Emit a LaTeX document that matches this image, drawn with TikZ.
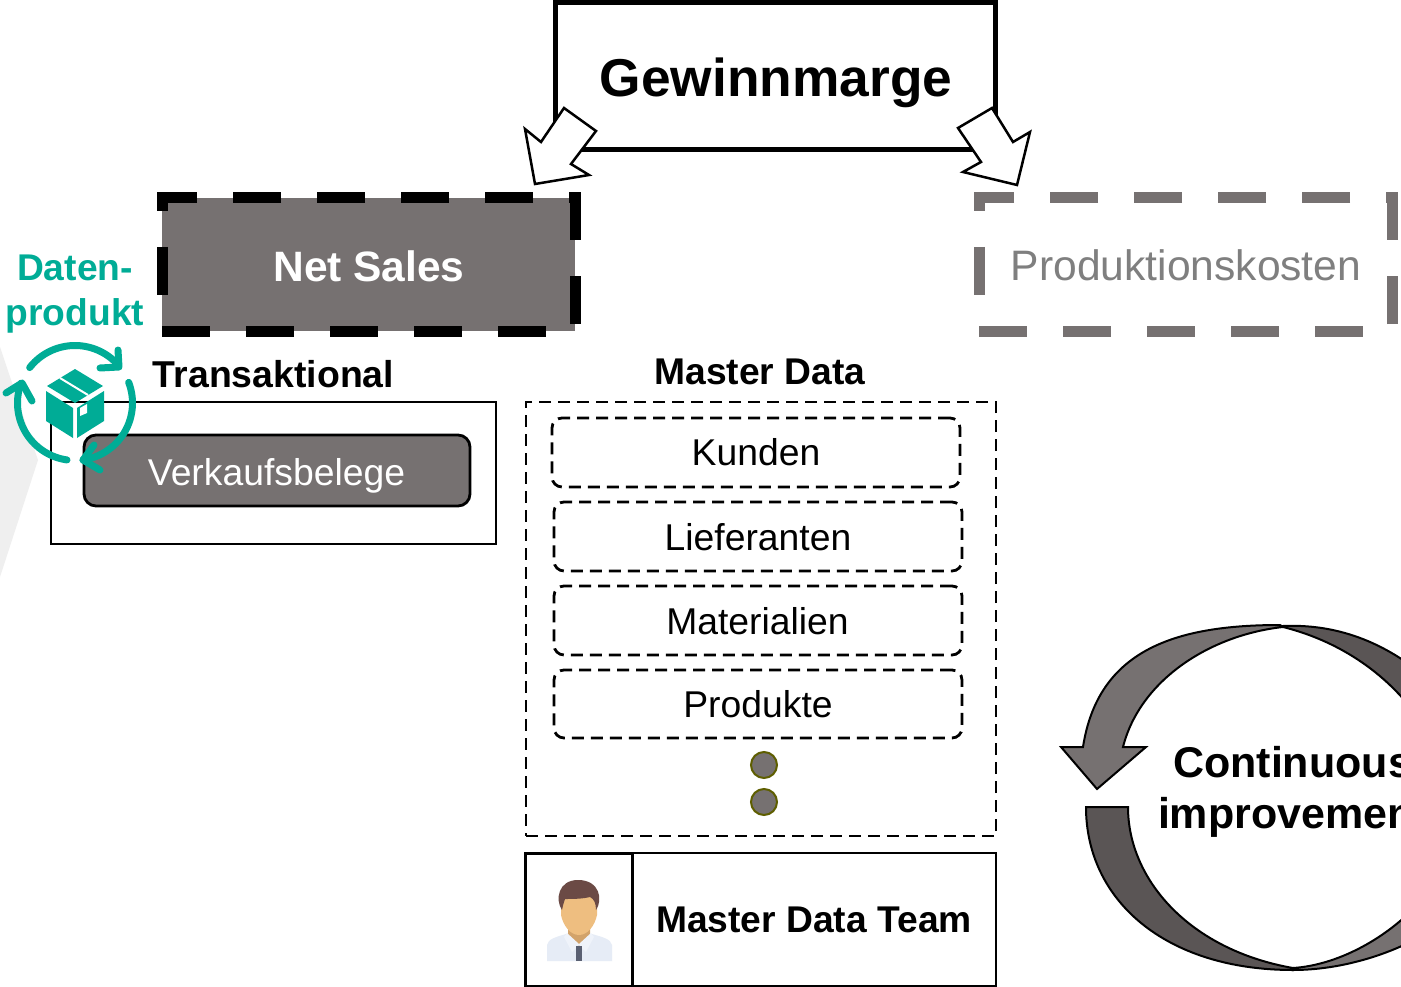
\documentclass[tikz,border=0pt]{standalone}
\usepackage{fontspec}
\setmainfont{Liberation Sans}
\definecolor{boxgray}{HTML}{767171}
\definecolor{darkgray}{HTML}{5A5555}
\definecolor{labelgray}{HTML}{7F7F7F}
\definecolor{teal}{HTML}{00AC96}
\definecolor{paleback}{HTML}{EFEFEF}
\definecolor{olivering}{HTML}{5E5E00}
\definecolor{shirt}{HTML}{E6ECF6}
\definecolor{neck}{HTML}{D2A36B}
\definecolor{collar}{HTML}{EFF3FA}
\definecolor{tie}{HTML}{5A6072}
\definecolor{face}{HTML}{EEBE80}
\definecolor{hair}{HTML}{6B4A45}
\newcommand{\fz}[1]{\fontsize{#1}{#1}\selectfont}
\tikzset{
  x=1pt,y=-1pt,
  every node/.style={inner sep=0pt,outer sep=0pt},
  lab/.style={anchor=base,text=black},
  blockarrow/.style={draw=black,line width=2.5pt,fill=white,line join=miter},
  bigdash/.style={line width=11pt,dash pattern=on 48pt off 36pt},
  thindash/.style={draw=black,line width=2.8pt,dash pattern=on 12pt off 7pt},
  innerbox/.style={thindash,rounded corners=10pt,minimum width=408pt},
  loopdark/.style={draw=black,line width=2pt,fill=darkgray,line join=miter},
  looplight/.style={draw=black,line width=2pt,fill=boxgray,line join=miter},
  tealarc/.style={draw=teal,line width=7pt,line cap=round,line join=round},
  dotnode/.style={circle,draw=olivering,line width=2pt,fill=boxgray,minimum size=26pt},
}
\begin{document}
\begin{tikzpicture}
\useasboundingbox (0,0) rectangle (1401,987);
\clip (0,0) rectangle (1401,987);
\fill[white] (0,0) rectangle (1401,987);
\fill[paleback] (0,347) -- (38,460) -- (0,577) -- cycle;

% Gewinnmarge
\node[rectangle,draw=black,line width=5pt,minimum width=440pt,minimum height=147pt] (gm) at (775.5,76.5) {};
\node[lab,font=\fz{53.3}\bfseries] (gmt) at (776,97) {Gewinnmarge};

% Net Sales
\node[rectangle,fill=boxgray,minimum width=413pt,minimum height=133pt] (ns) at (368.5,264.5) {};
\draw[bigdash,draw=black] (ns.south west) -- (ns.south east) -- (ns.north east) -- (ns.north west) -- cycle;
\node[lab,text=white,font=\fz{42.5}\bfseries] (nst) at (369,282) {Net Sales};

% Produktionskosten
\node[rectangle,minimum width=413pt,minimum height=133pt] (pk) at (1185.5,264.5) {};
\draw[bigdash,draw=boxgray] (pk.south west) -- (pk.south east) -- (pk.north east) -- (pk.north west) -- cycle;
\node[lab,text=labelgray,font=\fz{42.6}] (pkt) at (1186,281) {Produktionskosten};

% block arrows
\draw[blockarrow] (564,108) -- (596,131) -- (571,164) -- (589,175) -- (535,184) -- (525,129) -- (541,142) -- cycle;
\draw[blockarrow] (992,108) -- (1013,142) -- (1030,132) -- (1017,185) -- (963,172) -- (981,162) -- (958,128) -- cycle;

% Transaktional
\node[lab,font=\fz{37.4}\bfseries] (trt) at (273.5,387) {Transaktional};
\node[rectangle,draw=black,line width=2.8pt,minimum width=445pt,minimum height=142pt] (tr) at (273.5,473) {};
\node[rectangle,draw=black,line width=2.8pt,fill=boxgray,rounded corners=12pt,minimum width=386pt,minimum height=71pt] (vk) at (277,470.5) {};
\node[lab,text=white,font=\fz{37.3}] (vkt) at (276.5,485) {Verkaufsbelege};

% Master data
\node[lab,font=\fz{37.2}\bfseries] (mdt) at (760,384) {Master Data};
\node[rectangle,thindash,minimum width=470pt,minimum height=434pt] (md) at (761,619) {};
\node[rectangle,innerbox,minimum height=69pt] (ku) at (756,452.5) {};
\node[lab,font=\fz{37.3}] (kut) at (756,465) {Kunden};
\node[rectangle,innerbox,minimum height=69pt] (li) at (758,536.5) {};
\node[lab,font=\fz{37.3}] (lit) at (758,550) {Lieferanten};
\node[rectangle,innerbox,minimum height=69pt] (ma) at (758,620.5) {};
\node[lab,font=\fz{37.3}] (mat) at (757.5,634) {Materialien};
\node[rectangle,innerbox,minimum height=68pt] (pr) at (758,704) {};
\node[lab,font=\fz{37.3}] (prt) at (758,717) {Produkte};
\node[dotnode] (d1) at (764,765) {};
\node[dotnode] (d2) at (764,802) {};

% Team
\node[rectangle,draw=black,line width=2pt,minimum width=470pt,minimum height=133pt] (team) at (760.5,919.5) {};
\node[rectangle,draw=black,line width=3pt,minimum width=107pt,minimum height=133pt] (photo) at (579,919.5) {};
\node[lab,font=\fz{37.2}\bfseries] (teamt) at (814,932) {Master Data Team};

% person
\fill[shirt] (547,945) .. controls (548,939) and (556,937) .. (566,934) -- (592,934) .. controls (602,937) and (611,939) .. (612,945) -- (612,961) -- (547,961) -- cycle;
\fill[neck] (568,922) -- (590,922) -- (590,937) -- (579,946) -- (568,937) -- cycle;
\fill[collar] (567,933) -- (579,944) -- (591,933) -- (594,937) -- (586,952) -- (579,945) -- (572,952) -- (564,937) -- cycle;
\fill[tie] (576,946) -- (582,946) -- (582,961) -- (576,961) -- cycle;
\fill[face] (561,892) -- (597,892) -- (597,915) .. controls (595,925) and (588,935) .. (579,935) .. controls (570,935) and (563,925) .. (561,915) -- cycle;
\fill[hair] (562,910) .. controls (555,900) and (558,880) .. (578,880) .. controls (600,880) and (603,900) .. (596,910) .. controls (596,903) and (594,899) .. (590,897) .. controls (582,899) and (572,899) .. (565,899) .. controls (564,902) and (563,905) .. (562,910) -- cycle;

% continuous improvement loop
\draw[looplight] (1280,625) .. controls (1175,625) and (1098,650) .. (1083,747) -- (1061,747) -- (1097,789) -- (1146,747) -- (1123,747) .. controls (1140,680) and (1210,635) .. (1283,627) -- cycle;
\draw[loopdark] (1283,626) .. controls (1330,624) and (1385,637) .. (1440,690) -- (1420,720) .. controls (1385,670) and (1335,640) .. (1283,627) -- cycle;
\draw[loopdark] (1086,807) .. controls (1086,900) and (1165,970) .. (1293,970) -- (1293,968) .. controls (1190,950) and (1128,880) .. (1128,807) -- cycle;
\draw[looplight] (1293,970) .. controls (1340,970) and (1395,955) .. (1440,925) -- (1430,890) .. controls (1395,935) and (1340,965) .. (1293,968) -- cycle;
\node[lab,font=\fz{43}\bfseries] (ci1) at (1292.5,777) {Continuous};
\node[lab,font=\fz{43}\bfseries] (ci2) at (1293,828) {improvement};

% data product label and icon
\node[lab,text=teal,font=\fz{37.2}\bfseries] (dp1) at (75,280) {Daten-};
\node[lab,text=teal,font=\fz{37.2}\bfseries] (dp2) at (75,325) {produkt};
\draw[tealarc] plot[domain=218:319,samples=40] ({75+57.5*cos(\x)},{403+57.5*sin(\x)});
\draw[tealarc] (118,350) -- (119,367) -- (100,368);
\draw[tealarc] plot[domain=-21:82,samples=40] ({75+57.5*cos(\x)},{403+57.5*sin(\x)});
\draw[tealarc] (94,445) -- (83,460) -- (100,470);
\draw[tealarc] plot[domain=98:200,samples=40] ({75+57.5*cos(\x)},{403+57.5*sin(\x)});
\draw[tealarc] (6,393) -- (22,383) -- (32,401);
% box
\fill[teal] (75,369) -- (103,386) -- (75,403) -- (47,386) -- cycle;
\draw[white,line width=2pt] (60,378) -- (88,395);
\fill[teal] (46,391) -- (73,408) -- (73,438) -- (46,421) -- cycle;
\fill[teal] (77,408) -- (104,391) -- (104,421) -- (77,438) -- cycle;
\fill[white] (80,408) -- (87,404) -- (87,413) -- (80,416) -- cycle;
\end{tikzpicture}
\end{document}
